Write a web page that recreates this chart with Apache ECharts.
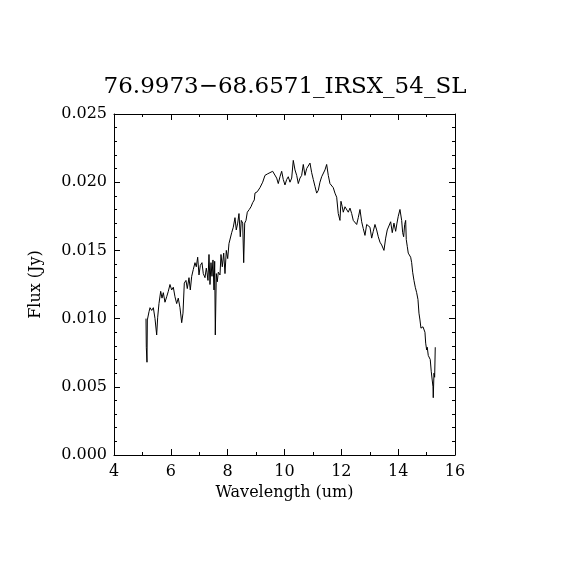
<!DOCTYPE html>
<html>
<head>
<meta charset="utf-8">
<script src="https://cdn.jsdelivr.net/npm/echarts@6/dist/echarts.min.js"></script>
<style>
  html, body { margin: 0; padding: 0; background: #fff; }
  #chart { width: 570px; height: 570px; }
</style>
</head>
<body>
<div id="chart"></div>
<script>
// spectrum
const wavelength = [
  5.126, 5.137, 5.161, 5.173, 5.232, 5.267, 5.326, 5.384, 5.443, 5.502,
  5.537, 5.583, 5.643, 5.689, 5.735, 5.794, 5.854, 5.911, 5.970, 6.030,
  6.087, 6.146, 6.206, 6.262, 6.322, 6.382, 6.428, 6.474, 6.533, 6.579,
  6.639, 6.685, 6.734, 6.790, 6.850, 6.896, 6.945, 6.991, 7.037, 7.096,
  7.142, 7.202, 7.248, 7.272, 7.307, 7.343, 7.378, 7.413, 7.448, 7.483,
  7.519, 7.543, 7.565, 7.600, 7.635, 7.670, 7.730, 7.765, 7.811, 7.860,
  7.906, 7.952, 8.001, 8.046, 8.092, 8.141, 8.198, 8.258, 8.303, 8.353,
  8.398, 8.444, 8.479, 8.529, 8.564, 8.599, 8.645, 8.691, 8.761, 8.821,
  8.880, 8.937, 8.961, 9.042, 9.137, 9.232, 9.313, 9.394, 9.489, 9.584,
  9.654, 9.725, 9.781, 9.841, 9.901, 9.957, 10.017, 10.077, 10.133, 10.193,
  10.253, 10.309, 10.369, 10.429, 10.485, 10.545, 10.604, 10.661, 10.721, 10.780,
  10.837, 10.897, 10.956, 11.013, 11.072, 11.132, 11.189, 11.248, 11.308, 11.364,
  11.424, 11.484, 11.541, 11.600, 11.660, 11.716, 11.776, 11.836, 11.892, 11.952,
  11.987, 12.033, 12.068, 12.128, 12.188, 12.244, 12.304, 12.364, 12.420, 12.480,
  12.540, 12.596, 12.656, 12.716, 12.772, 12.832, 12.892, 12.948, 13.008, 13.068,
  13.124, 13.184, 13.243, 13.300, 13.360, 13.419, 13.500, 13.560, 13.616, 13.676,
  13.736, 13.792, 13.852, 13.912, 13.958, 14.003, 14.063, 14.123, 14.158, 14.193,
  14.229, 14.264, 14.285, 14.320, 14.355, 14.405, 14.440, 14.475, 14.510, 14.556,
  14.602, 14.651, 14.697, 14.732, 14.767, 14.802, 14.837, 14.873, 14.908, 14.943,
  14.968, 15.003, 15.024, 15.059, 15.094, 15.129, 15.165, 15.200, 15.225, 15.235,
  15.260, 15.284, 15.305
];
const flux = [
  0.0100, 0.0079, 0.0068, 0.0099, 0.0105, 0.0108, 0.0106, 0.0108, 0.0100, 0.0088,
  0.0101, 0.0111, 0.0120, 0.0115, 0.0119, 0.0112, 0.0116, 0.0120, 0.0125, 0.0121,
  0.0123, 0.0116, 0.0111, 0.0115, 0.0108, 0.0097, 0.0104, 0.0126, 0.0128, 0.0122,
  0.0130, 0.0121, 0.0131, 0.0136, 0.0141, 0.0138, 0.0145, 0.0132, 0.0139, 0.0141,
  0.0133, 0.0130, 0.0137, 0.0134, 0.0128, 0.0147, 0.0125, 0.0141, 0.0131, 0.0143,
  0.0121, 0.0142, 0.0088, 0.0133, 0.0127, 0.0134, 0.0132, 0.0147, 0.0138, 0.0148,
  0.0133, 0.0150, 0.0144, 0.0155, 0.0156, 0.0163, 0.0167, 0.0174, 0.0165, 0.0170,
  0.0177, 0.0160, 0.0172, 0.0170, 0.0141, 0.0170, 0.0172, 0.0178, 0.0180, 0.0182,
  0.0185, 0.0187, 0.0192, 0.0193, 0.0196, 0.0200, 0.0205, 0.0206, 0.0207, 0.0208,
  0.0207, 0.0203, 0.0199, 0.0204, 0.0208, 0.0202, 0.0198, 0.0202, 0.0204, 0.0200,
  0.0203, 0.0216, 0.0209, 0.0205, 0.0199, 0.0203, 0.0205, 0.0213, 0.0205, 0.0210,
  0.0209, 0.0214, 0.0207, 0.0202, 0.0197, 0.0192, 0.0194, 0.0200, 0.0204, 0.0204,
  0.0209, 0.0213, 0.0205, 0.0199, 0.0198, 0.0196, 0.0192, 0.0189, 0.0177, 0.0172,
  0.0186, 0.0182, 0.0178, 0.0182, 0.0183, 0.0178, 0.0181, 0.0177, 0.0172, 0.0171,
  0.0169, 0.0174, 0.0180, 0.0171, 0.0166, 0.0161, 0.0169, 0.0170, 0.0167, 0.0159,
  0.0164, 0.0169, 0.0165, 0.0160, 0.0156, 0.0154, 0.0150, 0.0159, 0.0165, 0.0166,
  0.0171, 0.0163, 0.0170, 0.0164, 0.0170, 0.0175, 0.0180, 0.0172, 0.0163, 0.0160,
  0.0169, 0.0172, 0.0158, 0.0153, 0.0148, 0.0147, 0.0145, 0.0141, 0.0134, 0.0128,
  0.0123, 0.0119, 0.0114, 0.0104, 0.0099, 0.0093, 0.0092, 0.0094, 0.0095, 0.0090,
  0.0082, 0.0077, 0.0079, 0.0073, 0.0072, 0.0070, 0.0061, 0.0060, 0.0050, 0.0042,
  0.0060, 0.0057, 0.0079
];
const titleText = "76.9973\u221268.6571_IRSX_54_SL";
const yTickLabels = ["0.000", "0.005", "0.010", "0.015", "0.020", "0.025"];

const font = "DejaVu Serif";
const points = wavelength.map((w, i) => [w, flux[i]]);

const tickStyle = { show: true, inside: true, length: 6, lineStyle: { color: "#000", width: 1 } };
const minorStyle = { show: true, length: 3, lineStyle: { color: "#000", width: 1 } };

function xAxisDef(pos, labels) {
  return {
    type: "value", position: pos, min: 4, max: 16, interval: 2,
    name: labels ? "Wavelength (um)" : "",
    nameLocation: "middle", nameGap: 30,
    nameTextStyle: { fontFamily: font, fontSize: 16, color: "#000" },
    axisLine: { show: true, onZero: false, lineStyle: { color: "#000", width: 1 } },
    axisTick: tickStyle,
    minorTick: Object.assign({ splitNumber: 2 }, minorStyle),
    splitLine: { show: false },
    axisLabel: { show: labels, margin: 9, fontFamily: font, fontSize: 16, color: "#000" }
  };
}

function yAxisDef(pos, labels) {
  return {
    type: "value", position: pos, min: 0, max: 0.025, interval: 0.005,
    name: labels ? "Flux (Jy)" : "",
    nameLocation: "middle", nameGap: 70, nameRotate: 90,
    nameTextStyle: { fontFamily: font, fontSize: 16, color: "#000" },
    axisLine: { show: true, onZero: false, lineStyle: { color: "#000", width: 1 } },
    axisTick: tickStyle,
    minorTick: Object.assign({ splitNumber: 5 }, minorStyle),
    splitLine: { show: false },
    axisLabel: {
      show: labels, margin: 7, fontFamily: font, fontSize: 16, color: "#000",
      formatter: v => yTickLabels[Math.round(v / 0.005)]
    }
  };
}

const chart = echarts.init(document.getElementById("chart"), null, { renderer: "canvas" });
chart.setOption({
  animation: false,
  backgroundColor: "#fff",
  title: {
    text: titleText, left: "center", top: 71,
    textStyle: { fontFamily: font, fontSize: 23, fontWeight: "normal", color: "#000" }
  },
  grid: { left: 114, top: 114, width: 341, height: 341 },
  xAxis: [xAxisDef("bottom", true), xAxisDef("top", false)],
  yAxis: [yAxisDef("left", true), yAxisDef("right", false)],
  series: [{
    type: "line",
    data: points,
    showSymbol: false,
    lineStyle: { color: "#000", width: 1 },
    itemStyle: { color: "#000" }
  }]
});
</script>
</body>
</html>
